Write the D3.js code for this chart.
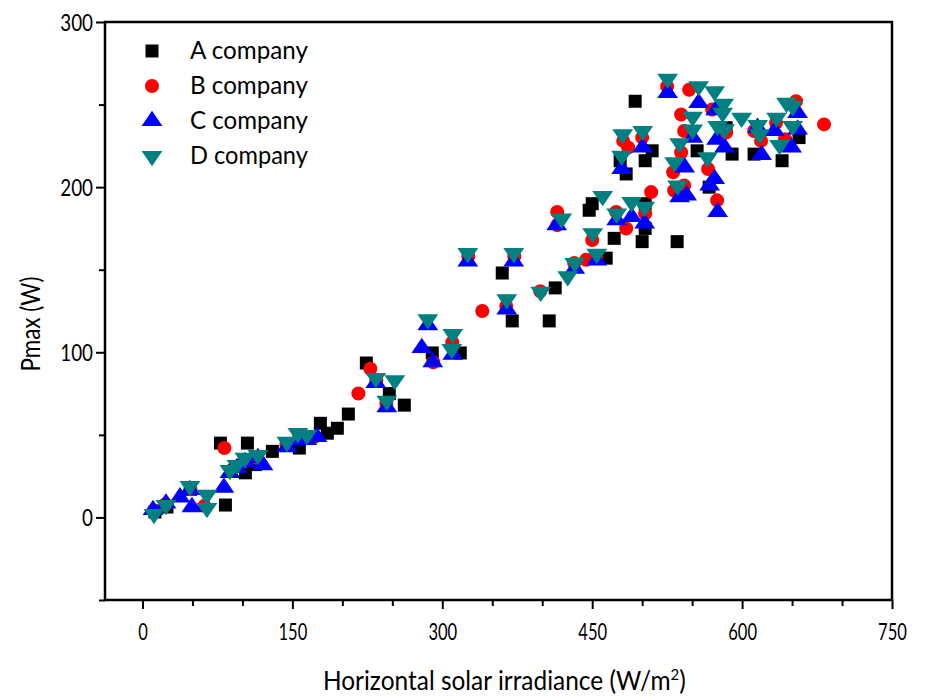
<!DOCTYPE html>
<html><head><meta charset="utf-8">
<script src="https://cdn.jsdelivr.net/npm/d3@7"></script>
<style>body{margin:0;background:#fff}text{font-family:Lato,"Open Sans",sans-serif;fill:#000}</style>
</head><body><svg id="c" width="935" height="698"></svg>
<script>
const seriesNames = ["A company","B company","C company","D company"];
const seriesColors = ["#000000","#ff0000","#0000ff","#008080"];
const xTicks = [0,150,300,450,600,750];
const yTicks = [0,100,200,300];
const dataA = [[12.5,3.3],[24.5,6.3],[48,17],[78,45],[83,7.5],[103,27],[105,45],[113,32],[130,40],[157,42],[178,57],[185,51],[195,54],[206,62.6],[224,93.5],[247,75],[262,68],[290,99.6],[318,99.6],[360,148],[370,119],[407,119],[413,139],[447,186],[450,190],[464,157],[472,169],[478,216],[484,208],[493,252],[500,167],[503,175],[503,190],[503,216],[510,222],[535,167],[567,200],[555,222],[584,236],[590,220],[612,220],[640,216],[657,230]];
const dataB = [[12.5,4],[23,8],[48,17],[62,7],[82,42],[90,29],[102,34],[115,36],[144,44],[157,49],[173,49],[216,75],[228,90],[234,83],[244,69],[291,94],[310,106],[326,158],[340,125],[364,128],[372,158],[398,137],[415,185],[415,177],[432,154],[444,156],[450,168],[454,157],[474,185],[484,175],[481,228],[486,224],[500,230],[503,184],[509,197],[525,261],[531,209],[532,198],[539,244],[539,221],[542,234],[542,201],[547,259],[566,211],[570,247],[575,192],[584,233],[612,234],[619,228],[634,239],[643,229],[654,252],[682,238]];
const dataC = [[10.5,4.5],[23.5,8.5],[37.5,12.2],[47.5,16.6],[49.5,6.3],[81.5,18],[87.5,27],[94.5,30],[102.5,33.6],[115.5,36],[120.5,31.7],[144.5,42.6],[155.5,47],[164.5,47],[174.5,48.7],[233.5,81.4],[244.5,66.8],[279.5,102.6],[285.5,116.5],[290.5,94],[310.5,98.6],[325.5,155],[364.5,126],[371.5,155],[414.5,177],[432.5,150.6],[454.5,155.6],[474.5,180],[479.5,211],[489.5,182],[500.5,224],[502.5,178],[525.5,257],[537.5,194],[542.5,212],[544.5,195],[550.5,230],[556.5,251],[567.5,201],[572.5,205],[573.5,246.6],[574.5,228.7],[575.5,185],[582.5,224],[615.5,236],[619.5,219.5],[632.5,234],[649.5,224],[655.5,235],[655.5,245]];
const dataD = [[11.5,2],[23.5,7.5],[47.5,19],[64.5,13.6],[64.5,5.7],[87.5,28.7],[94.5,31.7],[102.5,36],[115.5,37.8],[144.5,45.7],[155.5,51],[164.5,49.9],[233.5,84.4],[252.5,83],[244.5,70.6],[285.5,120],[310.5,111],[309.5,102],[325.5,160],[364.5,132],[371.5,160],[398.5,136.6],[419.5,180.9],[425.5,146],[432.5,154],[454.5,159.6],[450.5,172],[460.5,194.6],[474.5,184],[480.5,232],[479.5,219],[489.5,191],[500.5,234],[502.5,188],[525.5,265.6],[535.5,201],[537.5,226.5],[532.5,215],[550.5,242.6],[550.5,234.8],[556.5,261],[565.5,218],[572.5,258],[575.5,237],[581.5,250.5],[580.5,245],[582.5,235],[599.5,242],[615.5,237.5],[617.5,232],[634.5,242],[637.5,225.5],[644.5,251],[650.5,249],[650.5,237]];
const allData = [dataA,dataB,dataC,dataD];

const L=105,R=892,T=22,B=600;
const svg=d3.select("#c");
const x=d3.scaleLinear().domain([-37.5,750]).range([L,R]);
const y=d3.scaleLinear().domain([-50,300]).range([B,T]);

function squeeze(sel,f){
  sel.each(function(){
    const el=d3.select(this);
    const ax=+el.attr("x")||0, ay=+el.attr("y")||0;
    const prev=el.attr("transform")||"";
    el.attr("transform",`${prev} translate(${ax},${ay}) scale(${f},1) translate(${-ax},${-ay})`);
  });
}

const xAxis=svg.append("g").attr("transform",`translate(0,${B})`)
  .call(d3.axisBottom(x).tickValues(d3.range(0,751,50)).tickFormat(d=>xTicks.includes(d)?d:"").tickSize(0).tickPadding(0));
xAxis.select(".domain").remove();
xAxis.selectAll(".tick line").attr("y2",d=>xTicks.includes(d)?9:6).attr("stroke","#000").attr("stroke-width",2);
xAxis.selectAll(".tick text").attr("x",0).attr("y",40).attr("dy",0).attr("font-size",23).style("font-family","Lato");
squeeze(xAxis.selectAll(".tick text"),0.72);

const yAxis=svg.append("g").attr("transform",`translate(${L},0)`)
  .call(d3.axisLeft(y).tickValues(d3.range(-50,301,50)).tickFormat(d=>yTicks.includes(d)?d:"").tickSize(0).tickPadding(0));
yAxis.select(".domain").remove();
yAxis.selectAll(".tick line").attr("x2",d=>yTicks.includes(d)?-9:-6).attr("stroke","#000").attr("stroke-width",2);
yAxis.selectAll(".tick text").attr("x",-12).attr("y",8).attr("dy",0).attr("font-size",23).style("font-family","Lato");
squeeze(yAxis.selectAll(".tick text"),0.82);

const sym=[d3.symbolSquare,d3.symbolCircle,d3.symbolTriangle,d3.symbolTriangle];
const sizes=[169,154,150,150];
function drawMarker(g,i,px,py){
  const p=g.append("path").attr("d",d3.symbol().type(sym[i]).size(sizes[i])()).attr("fill",seriesColors[i]);
  let t=`translate(${px},${py})`;
  if(i===3) t+=" rotate(180)";
  if(i>=2) t+=" scale(1.12,0.95)";
  p.attr("transform",t);
}
allData.forEach((ds,i)=>{
  const g=svg.append("g");
  ds.forEach(d=>drawMarker(g,i,x(d[0]),y(d[1])));
});

svg.append("rect").attr("x",L).attr("y",T).attr("width",R-L).attr("height",B-T).attr("fill","none").attr("stroke","#000").attr("stroke-width",2.5);

const lg=svg.append("g");
seriesNames.forEach((n,i)=>{
  const yy=51+i*35;
  drawMarker(lg,i,152,yy);
  const t=lg.append("text").attr("x",190).attr("y",yy+8).attr("font-size",25).text(n);
  const w=t.node().getComputedTextLength();
  squeeze(t,118/w);
});

const xt=svg.append("text").attr("x",323).attr("y",690).attr("font-size",26);
xt.append("tspan").text("Horizontal solar irradiance (W/m");
xt.append("tspan").attr("dy",-10).attr("font-size",16).text("2");
xt.append("tspan").attr("dy",10).text(")");
squeeze(xt,363/xt.node().getBBox().width);

const yt=svg.append("text").attr("x",0).attr("y",0).attr("text-anchor","middle").attr("font-size",26).text("Pmax (W)");
const yw=yt.node().getComputedTextLength();
yt.attr("transform",`translate(40,324) rotate(-90) scale(${95/yw},1)`);
</script></body></html>
